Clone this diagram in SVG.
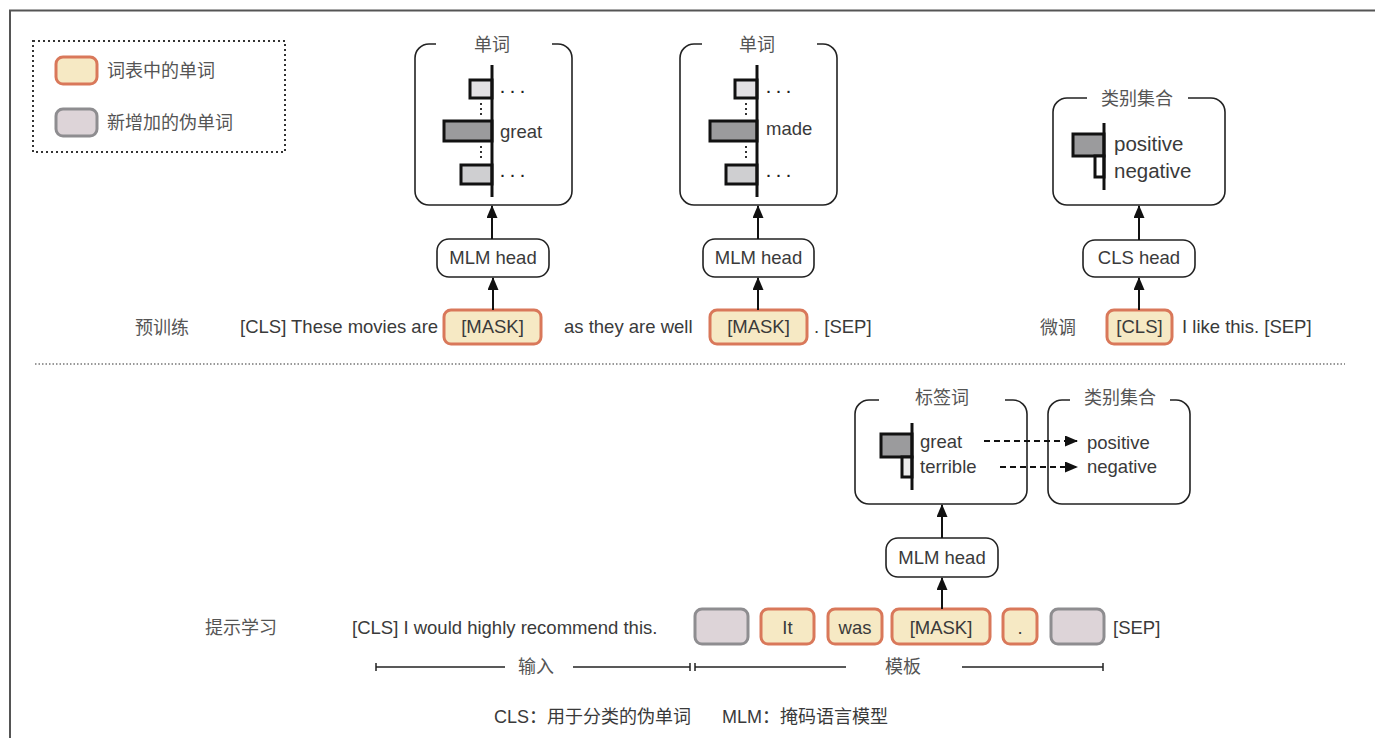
<svg xmlns="http://www.w3.org/2000/svg" width="1375" height="738" viewBox="0 0 1375 738">
  <defs>
    <marker id="arrow" viewBox="0 0 13 11" refX="12" refY="5.5" markerWidth="13" markerHeight="11" markerUnits="userSpaceOnUse" orient="auto">
      <path d="M0,0 L13,5.5 L0,11 z" fill="#111"/>
    </marker>
    <style>
      text { font-family: "Liberation Sans", "Noto Sans CJK SC", sans-serif; fill: #3a3a3a; font-size: 18.5px; }
      .cjk { fill: #555; font-size: 18px; }
      .mid { text-anchor: middle; }
      .ell { font-size: 21px; fill: #222; letter-spacing: 3px; }
      .panel { fill: none; stroke: #222; stroke-width: 1.6; }
      .head { fill: #fff; stroke: #222; stroke-width: 1.6; }
      .word { fill: #f6e9c4; stroke: #d9785a; stroke-width: 3; }
      .pseudo { fill: #ddd4d8; stroke: #8e8d90; stroke-width: 3; }
      .axis { stroke: #111; stroke-width: 3; }
      .bar { stroke: #111; stroke-width: 3; }
      .vdots { stroke: #333; stroke-width: 2; stroke-dasharray: 2 3; }
      .link { stroke: #111; stroke-width: 2; fill: none; }
      .dlink { stroke: #111; stroke-width: 1.8; stroke-dasharray: 6 4; fill: none; }
      .span { stroke: #222; stroke-width: 1.5; }
    </style>
  </defs>

  <!-- outer frame -->
  <path d="M10,738 V10.5 H1375" fill="none" stroke="#555" stroke-width="2"/>

  <!-- legend -->
  <g id="legend">
    <rect x="33" y="41" width="252" height="111" fill="none" stroke="#333" stroke-width="2" stroke-dasharray="2 3"/>
    <rect class="word" x="56" y="57" width="41" height="27" rx="7"/>
    <text class="cjk" x="107" y="77">词表中的单词</text>
    <rect class="pseudo" x="56" y="109" width="41" height="27" rx="7"/>
    <text class="cjk" x="107" y="129">新增加的伪单词</text>
  </g>

  <!-- pre-training: vocabulary distribution 1 -->
  <g id="vocab1">
    <path class="panel" d="M436,44 H429 A14 14 0 0 0 415,58 V191 A14 14 0 0 0 429,205 H558 A14 14 0 0 0 572,191 V58 A14 14 0 0 0 558,44 H552"/>
    <text class="cjk mid" x="492" y="51">单词</text>
    <rect class="bar" x="470" y="80" width="22" height="18" fill="#e3e1e4"/>
    <rect class="bar" x="444" y="121" width="48" height="20" fill="#9b9b9d"/>
    <rect class="bar" x="461" y="165" width="31" height="19" fill="#cfcfd1"/>
    <line class="vdots" x1="481" y1="103" x2="481" y2="118"/>
    <line class="vdots" x1="481" y1="146" x2="481" y2="161"/>
    <line class="axis" x1="492" y1="65" x2="492" y2="197"/>
    <text class="ell" x="499" y="97">···</text>
    <text x="500" y="138">great</text>
    <text class="ell" x="499" y="181">···</text>
  </g>

  <!-- pre-training: vocabulary distribution 2 -->
  <g id="vocab2">
    <path class="panel" d="M702,44 H694 A14 14 0 0 0 680,58 V191 A14 14 0 0 0 694,205 H823 A14 14 0 0 0 837,191 V58 A14 14 0 0 0 823,44 H817"/>
    <text class="cjk mid" x="757" y="51">单词</text>
    <rect class="bar" x="735" y="80" width="22" height="18" fill="#e3e1e4"/>
    <rect class="bar" x="710" y="121" width="47" height="20" fill="#9b9b9d"/>
    <rect class="bar" x="726" y="165" width="31" height="19" fill="#cfcfd1"/>
    <line class="vdots" x1="746" y1="103" x2="746" y2="118"/>
    <line class="vdots" x1="746" y1="146" x2="746" y2="161"/>
    <line class="axis" x1="757" y1="65" x2="757" y2="197"/>
    <text class="ell" x="765" y="97">···</text>
    <text x="766" y="135">made</text>
    <text class="ell" x="765" y="181">···</text>
  </g>

  <!-- fine-tuning: class set -->
  <g id="classes-ft">
    <path class="panel" d="M1087,98 H1067 A14 14 0 0 0 1053,112 V191 A14 14 0 0 0 1067,205 H1211 A14 14 0 0 0 1225,191 V112 A14 14 0 0 0 1211,98 H1188"/>
    <text class="cjk mid" x="1137" y="105">类别集合</text>
    <rect class="bar" x="1073" y="134" width="31" height="22" fill="#9b9b9d"/>
    <rect class="bar" x="1095" y="156" width="9" height="21" fill="#fff"/>
    <line class="axis" x1="1104" y1="123" x2="1104" y2="190"/>
    <text x="1114" y="151" style="font-size:20.5px">positive</text>
    <text x="1114" y="178" style="font-size:20.5px">negative</text>
  </g>

  <!-- heads -->
  <g id="mlm-head-1">
    <rect class="head" x="437" y="239" width="112" height="38" rx="12"/>
    <text class="mid" x="493" y="264">MLM head</text>
  </g>
  <g id="mlm-head-2">
    <rect class="head" x="703" y="239" width="111" height="38" rx="12"/>
    <text class="mid" x="758.5" y="264">MLM head</text>
  </g>
  <g id="cls-head">
    <rect class="head" x="1083" y="240" width="112" height="37" rx="12"/>
    <text class="mid" x="1139" y="264">CLS head</text>
  </g>

  <!-- pre-training sentence -->
  <g id="pretrain-row">
    <text class="cjk" x="135" y="334">预训练</text>
    <text x="240" y="333">[CLS] These movies are</text>
    <rect class="word" x="444" y="310" width="97" height="34" rx="7"/>
    <text class="mid" x="492.5" y="333">[MASK]</text>
    <text x="564" y="333">as they are well</text>
    <rect class="word" x="710" y="310" width="97" height="34" rx="7"/>
    <text class="mid" x="758.5" y="333">[MASK]</text>
    <text x="814" y="333">. [SEP]</text>
  </g>

  <!-- fine-tuning sentence -->
  <g id="finetune-row">
    <text class="cjk" x="1040" y="334">微调</text>
    <rect class="word" x="1107" y="310" width="65" height="34" rx="7"/>
    <text class="mid" x="1139.5" y="333">[CLS]</text>
    <text x="1182" y="333">I like this. [SEP]</text>
  </g>

  <!-- section divider -->
  <line x1="35" y1="364" x2="1345" y2="364" stroke="#777" stroke-width="1.5" stroke-dasharray="1.5 2"/>

  <!-- prompt learning: label words -->
  <g id="label-words">
    <path class="panel" d="M879,400 H869 A14 14 0 0 0 855,414 V490 A14 14 0 0 0 869,504 H1013 A14 14 0 0 0 1027,490 V414 A14 14 0 0 0 1013,400 H1005"/>
    <text class="cjk mid" x="942" y="404">标签词</text>
    <rect class="bar" x="881" y="434" width="31" height="23" fill="#9b9b9d"/>
    <rect class="bar" x="902" y="457" width="10" height="20" fill="#ececec"/>
    <line class="axis" x1="912" y1="423" x2="912" y2="490"/>
    <text x="920" y="448">great</text>
    <text x="920" y="473">terrible</text>
  </g>

  <!-- prompt learning: class set -->
  <g id="classes-prompt">
    <path class="panel" d="M1070,400 H1062 A14 14 0 0 0 1048,414 V490 A14 14 0 0 0 1062,504 H1176 A14 14 0 0 0 1190,490 V414 A14 14 0 0 0 1176,400 H1170"/>
    <text class="cjk mid" x="1120" y="404">类别集合</text>
    <text x="1087" y="449">positive</text>
    <text x="1087" y="473">negative</text>
  </g>

  <g id="mlm-head-3">
    <rect class="head" x="886" y="538" width="112" height="39" rx="12"/>
    <text class="mid" x="942" y="564">MLM head</text>
  </g>

  <!-- prompt learning sentence with template -->
  <g id="prompt-row">
    <text class="cjk" x="205" y="634">提示学习</text>
    <text x="352" y="634">[CLS] I would highly recommend this.</text>
    <rect class="pseudo" x="695" y="609" width="53" height="35" rx="7"/>
    <rect class="word" x="761" y="609" width="53" height="35" rx="7"/>
    <text class="mid" x="787.5" y="634">It</text>
    <rect class="word" x="828" y="609" width="54" height="35" rx="7"/>
    <text class="mid" x="855" y="634">was</text>
    <rect class="word" x="892" y="609" width="98" height="35" rx="7"/>
    <text class="mid" x="941" y="634">[MASK]</text>
    <rect class="word" x="1003" y="609" width="34" height="35" rx="7"/>
    <text class="mid" x="1020" y="634">.</text>
    <rect class="pseudo" x="1051" y="609" width="53" height="35" rx="7"/>
    <text x="1113" y="634">[SEP]</text>
  </g>

  <!-- spans: input / template -->
  <g id="spans">
    <line class="span" x1="376" y1="667" x2="505" y2="667"/>
    <line class="span" x1="376" y1="663" x2="376" y2="671"/>
    <text class="cjk mid" x="536" y="673">输入</text>
    <line class="span" x1="573" y1="667" x2="690" y2="667"/>
    <line class="span" x1="690" y1="663" x2="690" y2="671"/>
    <line class="span" x1="695" y1="667" x2="846" y2="667"/>
    <line class="span" x1="695" y1="663" x2="695" y2="671"/>
    <text class="cjk mid" x="903" y="673">模板</text>
    <line class="span" x1="962" y1="667" x2="1103" y2="667"/>
    <line class="span" x1="1103" y1="663" x2="1103" y2="671"/>
  </g>

  <!-- footnote -->
  <g id="footnote">
    <text x="494" y="723" style="font-size:18px">CLS：用于分类的伪单词</text>
    <text x="722" y="723" style="font-size:18px">MLM：掩码语言模型</text>
  </g>

  <!-- connectors -->
  <g id="connectors">
    <line class="link" x1="492" y1="239" x2="492" y2="206" marker-end="url(#arrow)"/>
    <line class="link" x1="493" y1="310" x2="493" y2="278" marker-end="url(#arrow)"/>
    <line class="link" x1="758" y1="239" x2="758" y2="206" marker-end="url(#arrow)"/>
    <line class="link" x1="758" y1="310" x2="758" y2="278" marker-end="url(#arrow)"/>
    <line class="link" x1="1139" y1="240" x2="1139" y2="206" marker-end="url(#arrow)"/>
    <line class="link" x1="1139" y1="310" x2="1139" y2="278" marker-end="url(#arrow)"/>
    <line class="link" x1="942" y1="538" x2="942" y2="505" marker-end="url(#arrow)"/>
    <line class="link" x1="942" y1="609" x2="942" y2="578" marker-end="url(#arrow)"/>
    <line class="dlink" x1="984" y1="441" x2="1077" y2="441" marker-end="url(#arrow)"/>
    <line class="dlink" x1="1000" y1="467" x2="1077" y2="467" marker-end="url(#arrow)"/>
  </g>
</svg>
